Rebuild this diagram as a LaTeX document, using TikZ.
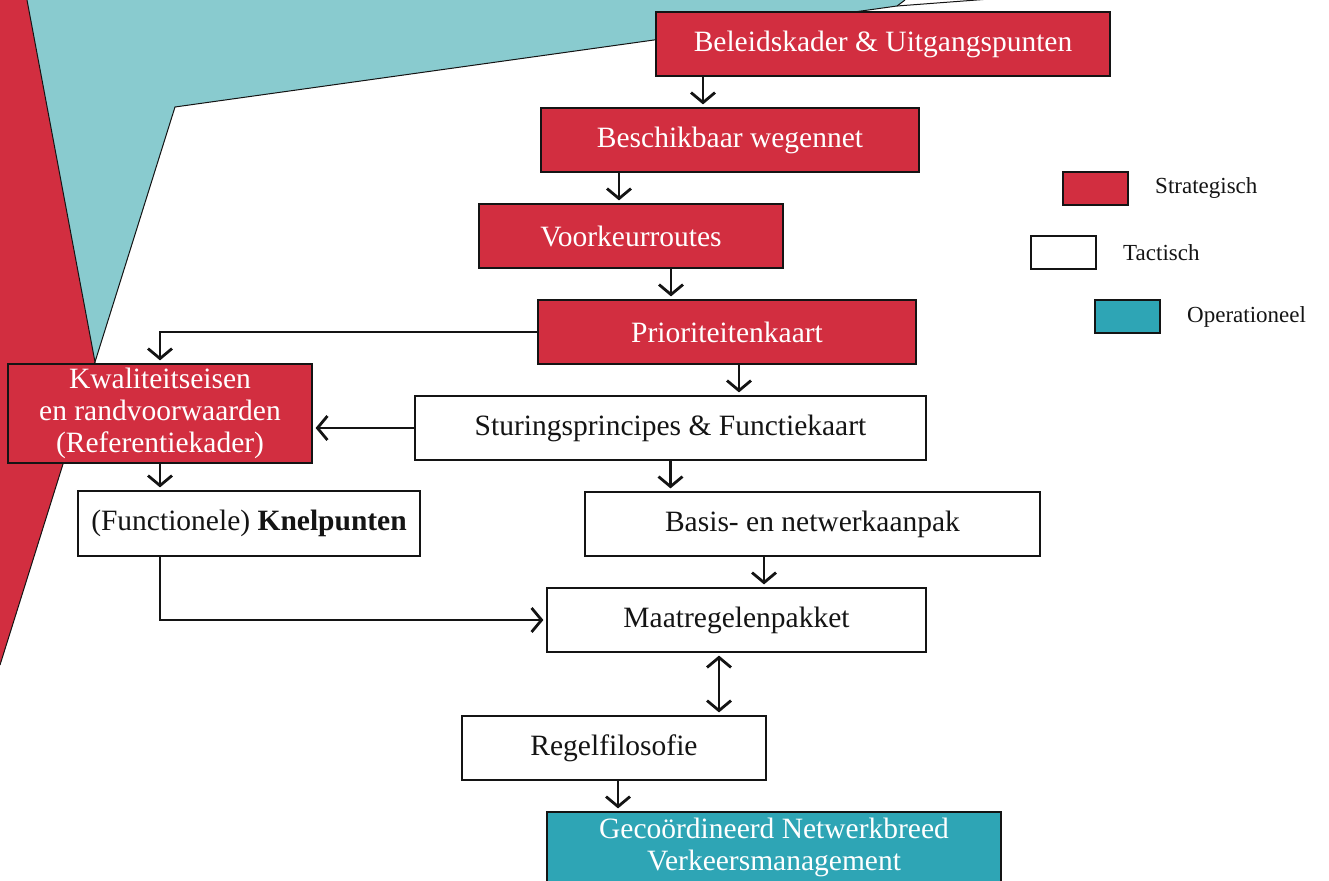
\documentclass[tikz,border=0pt]{standalone}
\usepackage{fontspec}
\setmainfont{Liberation Serif}
\usetikzlibrary{arrows.meta}
\definecolor{rred}{HTML}{D22E40}
\definecolor{tealbg}{HTML}{89CBCF}
\definecolor{tealbox}{HTML}{2EA5B5}
\definecolor{ink}{HTML}{141414}
\tikzset{
  boxbase/.style={draw=ink, line width=1.2pt, inner sep=0pt, align=center, font=\fontsize{29.5}{32}\selectfont},
  strat/.style={boxbase, fill=rred, text=white},
  tact/.style={boxbase, fill=white, text=ink},
  oper/.style={boxbase, fill=tealbox, text=white},
  legbox/.style={draw=ink, line width=1.2pt, minimum width=65pt, minimum height=33pt, inner sep=0pt},
  legtext/.style={anchor=west, text=ink, inner sep=0pt, font=\fontsize{23}{26}\selectfont},
  barb/.tip={Straight Barb[length=10pt,width=24pt,line width=2.8pt]},
  arr/.style={draw=ink, line width=2.8pt, -barb, shorten >=3pt},
  darr/.style={draw=ink, line width=2.8pt, barb-barb, shorten >=3pt, shorten <=3pt}
}
\begin{document}
\begin{tikzpicture}[x=1pt,y=-1pt]
\useasboundingbox (0,0) rectangle (1329,880);
% background shapes
\fill[rred] (0,0) -- (27,0) -- (95,362) -- (0,665) -- cycle;
\fill[tealbg] (27,0) -- (95,362) -- (175,107) -- (897,6) -- (905,0) -- cycle;
\draw[ink, line width=1pt] (27,0) -- (95,362) -- (175,107) -- (897,6) -- (905,0);
\draw[ink, line width=1pt] (897,6) -- (990,-1);
\draw[ink, line width=1pt] (95,362) -- (0,665);
% nodes
\node[strat, minimum width=454pt, minimum height=64pt] (bel) at (883,44) {Beleidskader \& Uitgangspunten};
\node[strat, minimum width=378pt, minimum height=64pt] (besch) at (730,140) {Beschikbaar wegennet};
\node[strat, minimum width=304pt, minimum height=64pt] (voork) at (631,236) {Voorkeurroutes};
\node[strat, minimum width=378pt, minimum height=64pt] (prior) at (727,332) {Prioriteitenkaart};
\node[strat, minimum width=304pt, minimum height=99pt] (kwal) at (160,413.5) {Kwaliteitseisen\\en randvoorwaarden\\(Referentiekader)};
\node[tact, minimum width=511pt, minimum height=64pt] (stur) at (670.5,428) {Sturingsprincipes \& Functiekaart};
\node[tact, minimum width=342pt, minimum height=65pt] (knel) at (249,523.5) {(Functionele) \textbf{Knelpunten}};
\node[tact, minimum width=455pt, minimum height=64pt] (basis) at (812.5,524) {Basis- en netwerkaanpak};
\node[tact, minimum width=379pt, minimum height=64pt] (maat) at (736.5,620) {Maatregelenpakket};
\node[tact, minimum width=304pt, minimum height=64pt] (regel) at (614,748) {Regelfilosofie};
\node[oper, minimum width=454pt, minimum height=70pt] (geco) at (774,847) {Gecoördineerd Netwerkbreed\\Verkeersmanagement};
% legend
\node[legbox, fill=rred] (lgs) at (1095.5,188.5) {};
\node[legtext] (lgst) at (1155,188) {Strategisch};
\node[legbox, fill=white] (lgt) at (1063.5,252.5) {};
\node[legtext] (lgtt) at (1123,253) {Tactisch};
\node[legbox, fill=tealbox] (lgo) at (1127.5,316.5) {};
\node[legtext] (lgot) at (1187,317) {Operationeel};
% connectors
\draw[arr] ([xshift=-180pt]bel.south) -- ([xshift=-27pt]besch.north);
\draw[arr] ([xshift=-111pt]besch.south) -- ([xshift=-12pt]voork.north);
\draw[arr] ([xshift=40pt]voork.south) -- ([xshift=-56pt]prior.north);
\draw[arr] (prior.west) -| (kwal.north);
\draw[arr] ([xshift=12pt]prior.south) -- ([xshift=68.5pt]stur.north);
\draw[arr] (stur.west) -- (stur.west -| kwal.east);
\draw[arr] (kwal.south) -- (kwal.south |- knel.north);
\draw[arr] (stur.south) -- (stur.south |- basis.north);
\draw[arr] ([xshift=-48.5pt]basis.south) -- ([xshift=-48.5pt]basis.south |- maat.north);
\draw[arr] ([xshift=-89pt]knel.south) |- (maat.west);
\draw[darr] ([xshift=-17.5pt]maat.south) -- ([xshift=105pt]regel.north);
\draw[arr] ([xshift=4pt]regel.south) -- ([xshift=-156pt]geco.north);
\end{tikzpicture}
\end{document}
